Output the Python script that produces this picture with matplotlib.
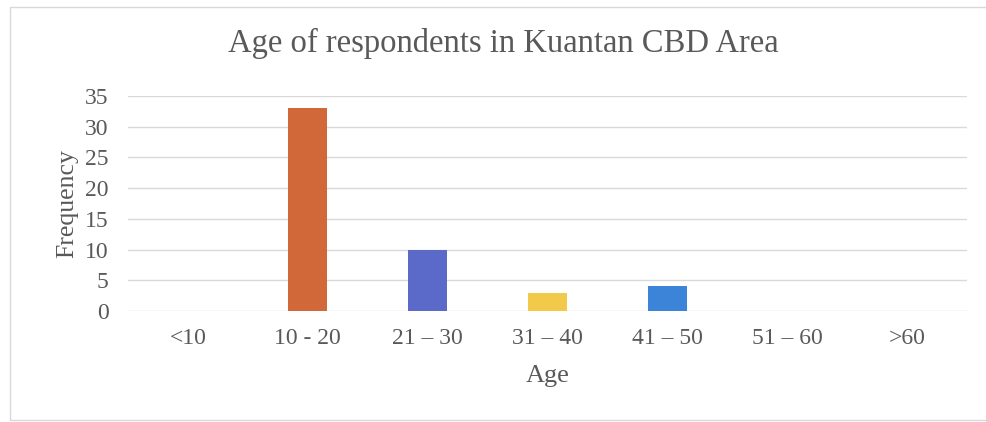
import matplotlib
matplotlib.use("Agg")
import matplotlib.pyplot as plt
from matplotlib.patches import Rectangle

categories = ["<10", "10 - 20", "21 – 30", "31 – 40", "41 – 50", "51 – 60", ">60"]
frequency = [0, 33, 10, 3, 4, 0, 0]
colors = ["#4472C4", "#D0683A", "#5B69C9", "#F3C94A", "#3B84D8", "#999999", "#999999"]
yticks = [0, 5, 10, 15, 20, 25, 30, 35]

plt.rcParams['font.family'] = ['Liberation Serif', 'DejaVu Serif']

fig = plt.figure(figsize=(9.87, 4.22), dpi=100)
fig.patch.set_facecolor("white")

# outer chart border
fig.add_artist(Rectangle((10/987, 1 - 420/422), 1.0, (420 - 7)/422,
                         transform=fig.transFigure, fill=False,
                         edgecolor="#d9d9d9", linewidth=1.0))

ax = fig.add_axes([128/987, 1 - 311/422, (967 - 128)/987, (311 - 96)/422])
x = list(range(len(categories)))
ax.bar(x, frequency, width=0.325, color=colors, zorder=3)
ax.set_xlim(-0.5, len(categories) - 0.5)
ax.set_ylim(0, 35)
ax.set_yticks(yticks)
ax.set_xticks(x)
ax.set_xticklabels(categories)
ax.grid(axis="y", color="#d9d9d9", linewidth=1.0, zorder=0)
for s in ax.spines.values():
    s.set_visible(False)
ax.tick_params(axis="both", length=0, labelsize=17, colors="#595959")
ax.tick_params(axis="x", pad=12)
ax.tick_params(axis="y", pad=14)
ax.set_xlabel("Age", fontsize=19, color="#595959", labelpad=12)
ax.set_ylabel("Frequency", fontsize=18.5, color="#595959", labelpad=5)
fig.text(503/987, 1 - 43/422, "Age of respondents in Kuantan CBD Area",
         ha="center", va="center", fontsize=23.5, color="#595959")

fig.savefig("out.png", dpi=100, facecolor="white")
